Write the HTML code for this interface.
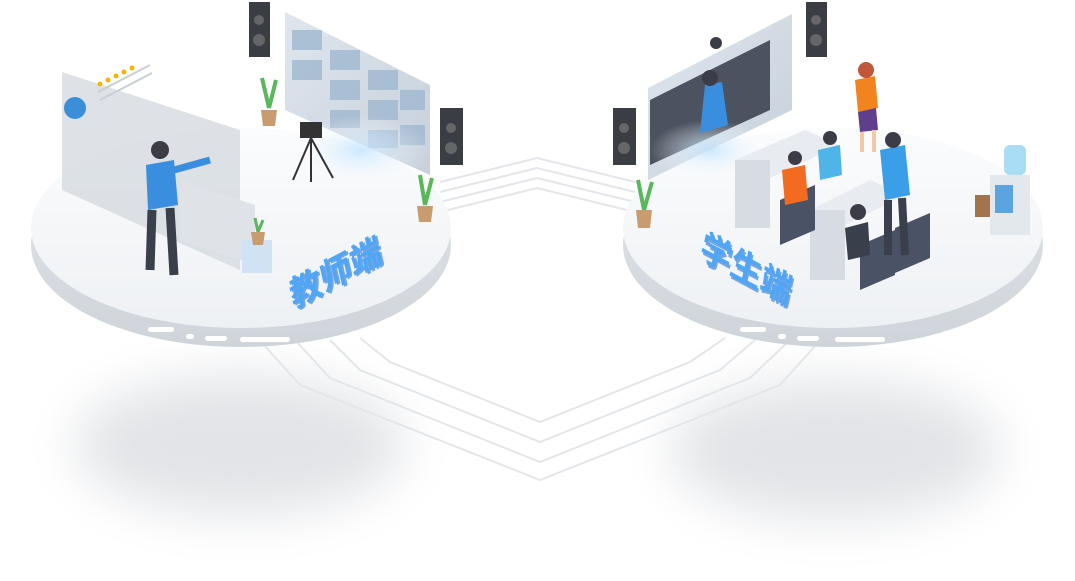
<!DOCTYPE html>
<html><head><meta charset="utf-8"><style>
html,body{margin:0;padding:0;background:#fff;}
svg{display:block}
text{font-family:"Liberation Sans","Noto Sans CJK SC",sans-serif;}
</style></head><body>
<svg width="1075" height="581" viewBox="0 0 1075 581" xmlns="http://www.w3.org/2000/svg">
<defs>
<filter id="bl" x="-50%" y="-50%" width="200%" height="200%"><feGaussianBlur stdDeviation="25"/></filter>
<linearGradient id="top" x1="0" y1="0" x2="0" y2="1"><stop offset="0" stop-color="#fbfcfd"/><stop offset="1" stop-color="#eef1f4"/></linearGradient>
<linearGradient id="side" x1="0" y1="0" x2="0" y2="1"><stop offset="0" stop-color="#e3e7eb"/><stop offset="1" stop-color="#cfd4da"/></linearGradient>
<linearGradient id="scr" x1="0" y1="0" x2="1" y2="1"><stop offset="0" stop-color="#dfe6ee"/><stop offset="1" stop-color="#c6d0db"/></linearGradient>
<radialGradient id="glow"><stop offset="0" stop-color="#bfe3ff" stop-opacity=".8"/><stop offset="1" stop-color="#fff" stop-opacity="0"/></radialGradient>
</defs>
<ellipse cx="240" cy="445" rx="165" ry="70" fill="#e2e4e7" filter="url(#bl)"/>
<ellipse cx="835" cy="450" rx="165" ry="70" fill="#e2e4e7" filter="url(#bl)"/>
<g fill="none" stroke="#e3e6ea" stroke-width="2">
<path d="M440 182 L537 158 L635 182"/>
<path d="M440 192 L537 168 L635 192"/>
<path d="M440 202 L537 178 L635 202"/>
<path d="M440 212 L537 188 L635 212"/>
<path d="M255 335 L300 385 L540 480 L780 385 L825 335"/>
<path d="M295 340 L330 378 L540 462 L750 378 L790 340"/>
<path d="M330 340 L360 370 L540 442 L720 370 L755 340"/>
<path d="M360 338 L390 362 L540 422 L690 362 L725 338"/>
</g>
<ellipse cx="241" cy="245" rx="210" ry="102" fill="url(#side)"/>
<ellipse cx="241" cy="228" rx="210" ry="100" fill="url(#top)"/>
<g fill="#fff"><rect x="148" y="327" width="26" height="5" rx="2.5"/><rect x="186" y="334" width="8" height="5" rx="2.5"/><rect x="205" y="336" width="22" height="5" rx="2.5"/><rect x="240" y="337" width="50" height="5" rx="2.5"/></g>
<ellipse cx="833" cy="245" rx="210" ry="102" fill="url(#side)"/>
<ellipse cx="833" cy="228" rx="210" ry="100" fill="url(#top)"/>
<g fill="#fff"><rect x="740" y="327" width="26" height="5" rx="2.5"/><rect x="778" y="334" width="8" height="5" rx="2.5"/><rect x="797" y="336" width="22" height="5" rx="2.5"/><rect x="835" y="337" width="50" height="5" rx="2.5"/></g>

<polygon points="62,72 240,130 240,270 62,190" fill="#d3d8de" opacity=".75"/>
<circle cx="75" cy="108" r="11" fill="#3b8fd9"/>
<g fill="#f5b700"><circle cx="100" cy="84" r="2.5"/><circle cx="108" cy="80" r="2.5"/><circle cx="116" cy="76" r="2.5"/><circle cx="124" cy="72" r="2.5"/><circle cx="132" cy="68" r="2.5"/></g>
<path d="M98 92 L150 65 M100 100 L152 73" stroke="#c8cfd7" stroke-width="2"/>
<polygon points="180,180 255,205 255,265 180,240" fill="#dfe3e8"/>
<rect x="242" y="240" width="30" height="33" fill="#cfe3f5"/>
<circle cx="160" cy="150" r="9" fill="#3c3c48"/>
<path d="M146 165 L174 160 L178 205 L148 210 Z" fill="#3a8ee0"/>
<path d="M174 170 L210 160" stroke="#3a8ee0" stroke-width="7"/>
<path d="M152 210 L150 270 M170 208 L174 275" stroke="#3a3f4c" stroke-width="9"/>
<polygon points="285,12 430,85 430,175 285,110" fill="url(#scr)"/>
<g fill="#9fb8d0" opacity=".8">
<rect x="292" y="30" width="30" height="20"/><rect x="330" y="50" width="30" height="20"/><rect x="368" y="70" width="30" height="20"/>
<rect x="292" y="60" width="30" height="20"/><rect x="330" y="80" width="30" height="20"/><rect x="368" y="100" width="30" height="20"/><rect x="400" y="90" width="25" height="20"/>
<rect x="330" y="110" width="30" height="18"/><rect x="368" y="130" width="30" height="18"/><rect x="400" y="125" width="25" height="20"/>
</g>
<ellipse cx="360" cy="150" rx="70" ry="35" fill="url(#glow)"/>
<rect x="249" y="2" width="21" height="55" fill="#3a3d44"/><circle cx="259" cy="20" r="5" fill="#666"/><circle cx="259" cy="40" r="6" fill="#666"/>
<rect x="440" y="108" width="23" height="57" fill="#3a3d44"/><circle cx="451" cy="128" r="5" fill="#666"/><circle cx="451" cy="148" r="6" fill="#666"/>
<rect x="300" y="122" width="22" height="16" fill="#333"/>
<path d="M311 138 L293 180 M311 138 L311 182 M311 138 L333 178" stroke="#333" stroke-width="2"/>
<path d="M269 108 L262 78 M269 108 L276 80" stroke="#59b85a" stroke-width="4"/><path d="M261 110 L277 110 L275 126 L263 126Z" fill="#c89c6e"/>
<path d="M425 205 L420 175 M425 205 L432 178" stroke="#59b85a" stroke-width="4"/><path d="M417 206 L433 206 L431 222 L419 222Z" fill="#c89c6e"/>
<path d="M258 232 L255 218 M258 232 L263 220" stroke="#59b85a" stroke-width="3"/><path d="M251 232 L265 232 L263 245 L253 245Z" fill="#c89c6e"/>
<g transform="translate(335,275) rotate(-28) skewX(-15)">
<text x="-48" y="12" font-size="34" font-weight="bold" fill="#1f6fd9" opacity=".6">教师端</text>
<text x="-50" y="10" font-size="34" font-weight="bold" fill="#4fa6f5">教师端</text>
</g>

<polygon points="648,88 792,14 792,110 648,180" fill="url(#scr)"/>
<polygon points="650,100 770,40 770,110 650,165" fill="#4b5360"/>
<ellipse cx="710" cy="150" rx="60" ry="30" fill="url(#glow)"/>
<path d="M705 85 L722 82 L728 125 L700 133Z" fill="#3a8ee0"/><circle cx="710" cy="78" r="8" fill="#3c3c48"/>
<circle cx="716" cy="43" r="6" fill="#3a3d44"/>
<rect x="613" y="108" width="23" height="57" fill="#3a3d44"/><circle cx="624" cy="128" r="5" fill="#666"/><circle cx="624" cy="148" r="6" fill="#666"/>
<rect x="806" y="2" width="21" height="55" fill="#3a3d44"/><circle cx="816" cy="20" r="5" fill="#666"/><circle cx="816" cy="40" r="6" fill="#666"/>
<path d="M644 210 L638 180 M644 210 L652 182" stroke="#59b85a" stroke-width="4"/><path d="M636 210 L652 210 L650 228 L638 228Z" fill="#c89c6e"/>
<polygon points="735,160 805,130 840,145 770,178" fill="#e8ebef"/><rect x="735" y="160" width="35" height="68" fill="#d7dce2"/>
<polygon points="810,210 870,180 905,195 845,225" fill="#e8ebef"/><rect x="810" y="210" width="35" height="70" fill="#d7dce2"/>
<polygon points="780,200 815,185 815,230 780,245" fill="#4a5266"/>
<polygon points="860,245 895,230 895,275 860,290" fill="#4a5266"/>
<polygon points="895,228 930,213 930,258 895,273" fill="#4a5266"/>
<path d="M782 170 L805 165 L808 200 L785 205Z" fill="#f26b21"/><circle cx="795" cy="158" r="7" fill="#3c3c48"/>
<path d="M818 150 L840 145 L842 175 L820 180Z" fill="#4fb5e8"/><circle cx="830" cy="138" r="7" fill="#3c3c48"/>
<path d="M845 228 L868 222 L870 255 L848 260Z" fill="#3a3f4c"/><circle cx="858" cy="212" r="8" fill="#3c3c48"/>
<path d="M880 150 L905 145 L910 195 L885 200Z" fill="#3a9ee8"/><circle cx="893" cy="140" r="8" fill="#3c3c48"/>
<path d="M888 200 L888 255 M902 198 L905 255" stroke="#3a3f4c" stroke-width="8"/>
<path d="M855 80 L875 76 L878 108 L858 112Z" fill="#f2841f"/><circle cx="866" cy="70" r="8" fill="#c0563a"/>
<path d="M858 112 L876 108 L878 130 L860 132Z" fill="#5d3f8e"/><path d="M862 132 L862 152 M874 130 L874 152" stroke="#f4c7a7" stroke-width="4"/>
<rect x="990" y="175" width="40" height="60" fill="#e3e8ed"/><rect x="995" y="185" width="18" height="28" fill="#5ba4e0"/>
<rect x="1004" y="145" width="22" height="30" rx="6" fill="#a9dcf5"/>
<rect x="975" y="195" width="15" height="22" fill="#a2744e"/>
<g transform="translate(745,270) rotate(28) skewX(15)">
<text x="-48" y="12" font-size="34" font-weight="bold" fill="#1f6fd9" opacity=".6">学生端</text>
<text x="-50" y="10" font-size="34" font-weight="bold" fill="#4fa6f5">学生端</text>
</g>
</svg>
</body></html>
